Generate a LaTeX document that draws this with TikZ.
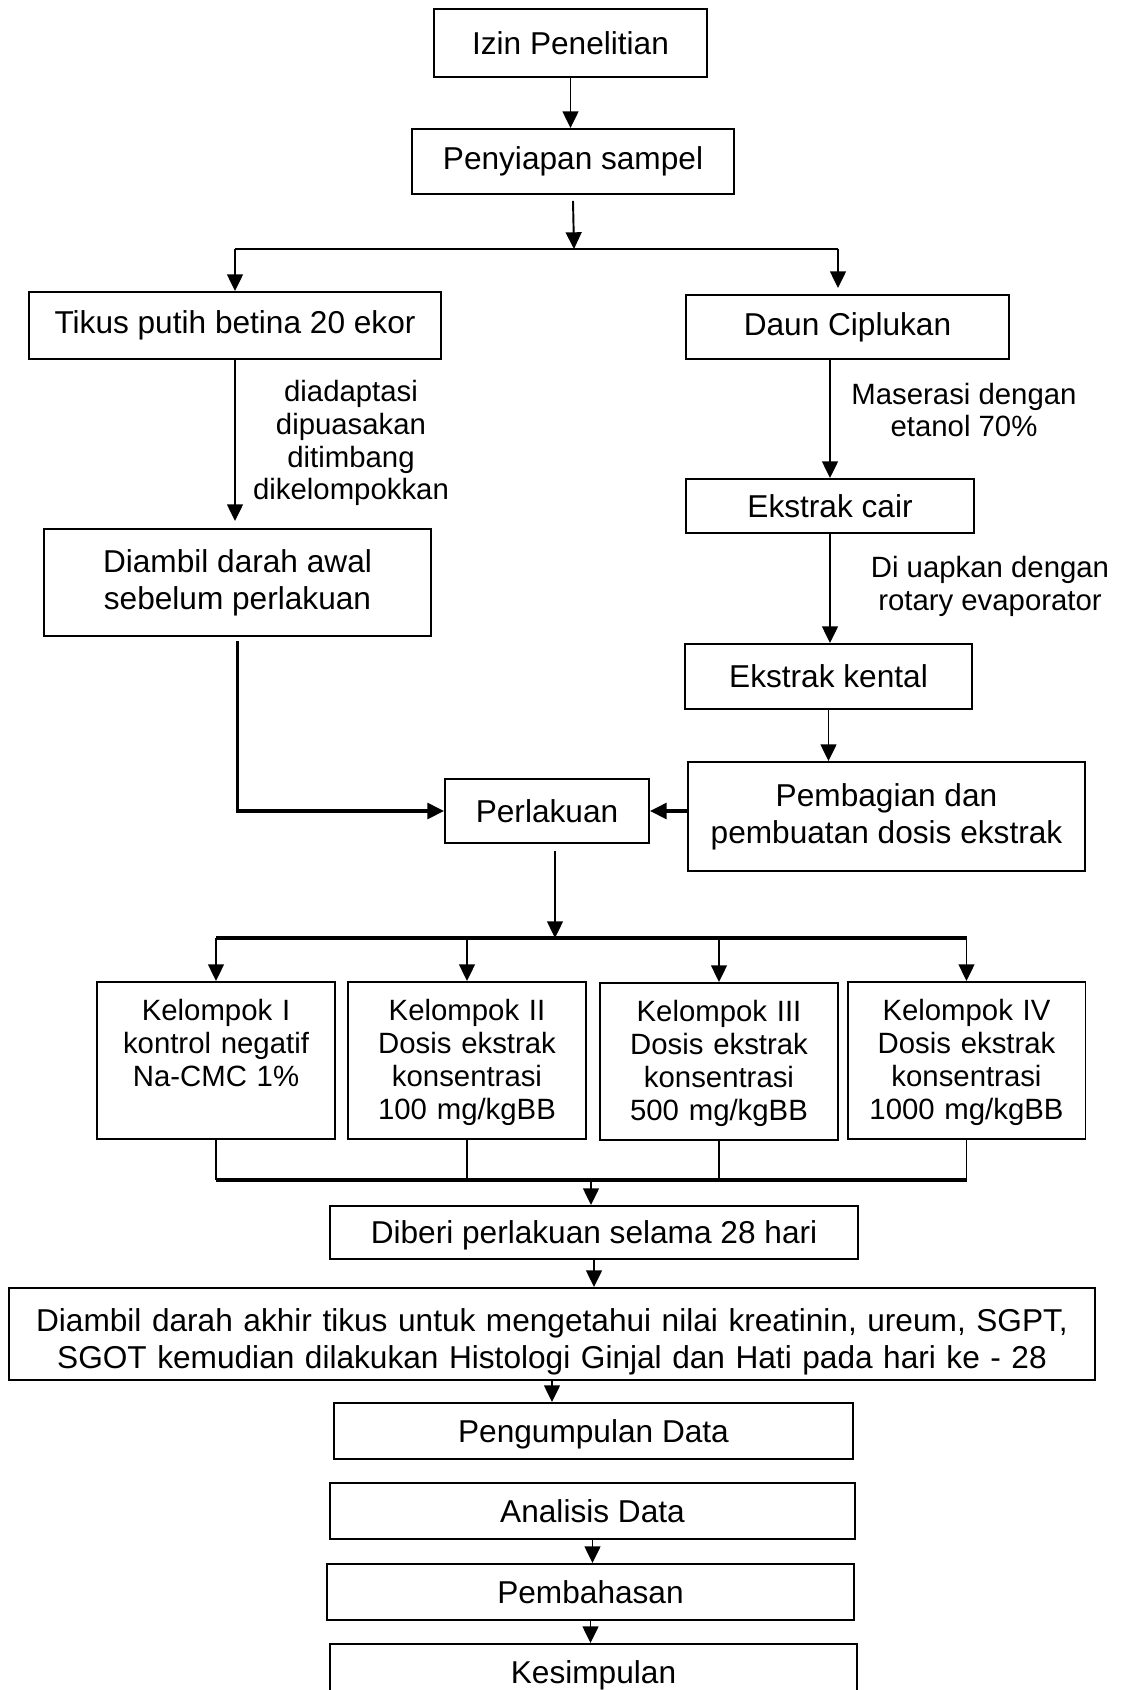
\documentclass[tikz,border=0pt]{standalone}
\usepackage{fontspec}
\setmainfont{Liberation Sans}
\usetikzlibrary{arrows.meta}

\begin{document}
\begin{tikzpicture}[x=0.02cm,y=-0.02cm,
  box/.style={draw,line width=1.1pt,inner sep=0pt,align=center,font=\fontsize{18}{21}\selectfont},
  satu/.style={text depth=0pt},
  grup/.style={draw,line width=1.1pt,inner sep=0pt,anchor=north,minimum width=4.76cm,text width=4.6cm,align=center,text height=22pt,text depth=67.6pt,font=\fontsize{16.7}{18.7}\selectfont},
  ket/.style={inner sep=0pt,align=center,font=\fontsize{16.7}{18.7}\selectfont},
  arr/.style={-{Triangle[length=9.5pt,width=9pt]},line width=1.1pt},
  tebal/.style={line width=1.8pt}]
\useasboundingbox (0,0) rectangle (1124,1690);
\clip (0,0) rectangle (1124,1690);
\node[box,minimum width=5.46cm,minimum height=1.36cm](izin) at (570.5,43){Izin Penelitian};
\node[box,minimum width=6.44cm,minimum height=1.30cm](sampel) at (573,161.5){Penyiapan sampel};
\node[box,minimum width=8.24cm,minimum height=1.34cm](tikus) at (235,325.5){Tikus putih betina 20 ekor};
\node[box,minimum width=6.46cm,minimum height=1.28cm](daun) at (847.5,327){Daun Ciplukan};
\node[box,minimum width=7.74cm,minimum height=2.14cm](awal) at (237.5,582.5){Diambil darah awal\\sebelum perlakuan};
\node[box,minimum width=5.76cm,minimum height=1.08cm](cair) at (830,506){Ekstrak cair};
\node[box,minimum width=5.74cm,minimum height=1.30cm](kental) at (828.5,676.5){Ekstrak kental};
\node[box,minimum width=7.94cm,minimum height=2.18cm](dosis) at (886.5,816.5){Pembagian dan\\pembuatan dosis ekstrak};
\node[box,minimum width=4.08cm,minimum height=1.28cm](perlakuan) at (547,811){Perlakuan};
\node[grup](k1) at (216,981){Kelompok I\\kontrol negatif\\Na-CMC 1\%};
\node[grup](k2) at (467,981){Kelompok II\\Dosis ekstrak\\konsentrasi\\100 mg/kgBB};
\node[grup](k3) at (719,982){Kelompok III\\Dosis ekstrak\\konsentrasi\\500 mg/kgBB};
\node[grup](k4) at (966.5,981){Kelompok IV\\Dosis ekstrak\\konsentrasi\\1000 mg/kgBB};
\node[box,satu,minimum width=10.56cm,minimum height=1.06cm](diberi) at (594,1232.5){Diberi perlakuan selama 28 hari};
\node[box,text width=21.5cm,text height=13pt,text depth=16.3pt,minimum width=21.72cm,minimum height=1.84cm](akhir) at (552,1334){Diambil darah akhir tikus untuk mengetahui nilai kreatinin, ureum, SGPT,\\SGOT kemudian dilakukan Histologi Ginjal dan Hati pada hari ke - 28};
\node[box,satu,minimum width=10.38cm,minimum height=1.12cm](kumpul) at (593.5,1431){Pengumpulan Data};
\node[box,satu,minimum width=10.5cm,minimum height=1.12cm](analisis) at (592.5,1511){Analisis Data};
\node[box,satu,minimum width=10.54cm,minimum height=1.12cm](bahas) at (590.5,1592){Pembahasan};
\node[box,satu,minimum width=10.54cm,minimum height=1.12cm](simpul) at (593.5,1672){Kesimpulan};
% keterangan pada panah
\node[ket](adaptasi) at (351,443){diadaptasi\\dipuasakan\\ditimbang\\dikelompokkan};
\node[ket](maserasi) at (964,410){Maserasi dengan\\etanol 70\%};
\node[ket](uapkan) at (990,586){Di uapkan dengan\\rotary evaporator};
% titik cabang
\coordinate (pisah) at (574,249);
\coordinate (kanan) at (838,249);
\coordinate (gabung) at (555,938);
\coordinate (turun) at (591,1180);
\foreach \from/\to in {izin/sampel,diberi/akhir,akhir/kumpul,analisis/bahas,bahas/simpul}
 \draw[arr] (\from) -- (\from |- \to.north);
\draw[arr] ([yshift=-0.12cm]sampel.south) -- (pisah);
\draw[line width=0.8pt] (tikus.north |- pisah) -- (kanan);
\draw[arr] (tikus.north |- pisah) -- (tikus.north);
\draw[arr] (kanan) -- ([yshift=0.12cm]kanan |- daun.north);
\draw[arr] (tikus) -- ([yshift=0.14cm]tikus.south |- awal.north);
\draw[arr] (cair.north |- daun.south) -- (cair.north);
\draw[arr] (cair) -- (cair.south |- kental.north);
\draw[arr] (kental) -- (kental.south |- dosis.north);
\draw[arr,tebal] ([yshift=-0.08cm]awal.south) |- (perlakuan.west);
\draw[arr,tebal] (dosis.west |- perlakuan.east) -- (perlakuan.east);
\draw[arr] ([yshift=-0.14cm]gabung |- perlakuan.south) -- (gabung);
\draw[tebal] (k1.north |- gabung) -- (k4.north |- gabung);
\foreach \k in {k1,k2,k3,k4}
 \draw[arr] (\k.north |- gabung) -- (\k.north);
\foreach \k in {k1,k2,k3,k4}
 \draw[line width=1.1pt] (\k.south) -- (\k.south |- turun);
\draw[tebal] (k1.south |- turun) -- (k4.south |- turun);
\draw[arr] (turun) -- (turun |- diberi.north);
\end{tikzpicture}
\end{document}
